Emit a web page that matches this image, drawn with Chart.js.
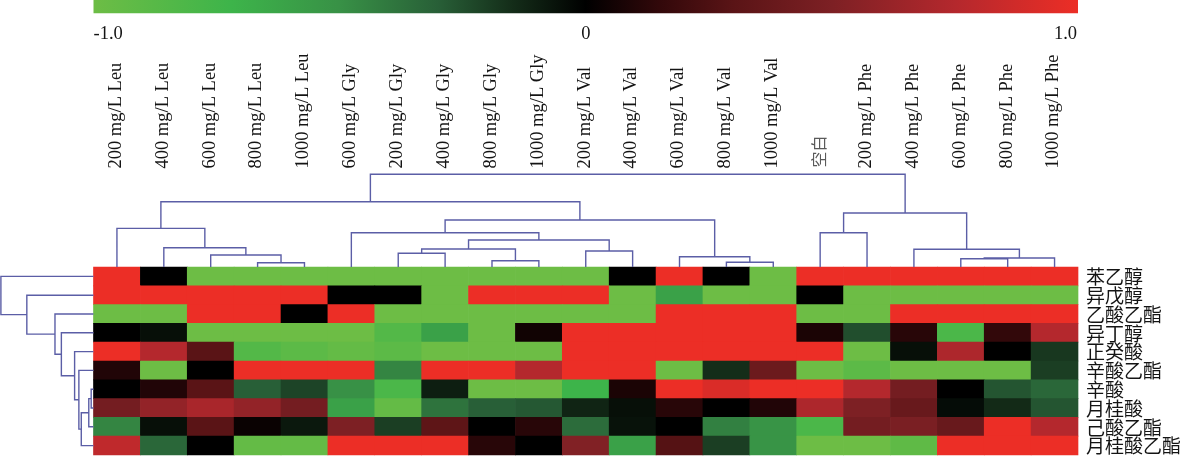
<!DOCTYPE html>
<html><head><meta charset="utf-8">
<script src="https://cdn.jsdelivr.net/npm/chart.js@4.4.1/dist/chart.umd.min.js"></script>
<style>html,body{margin:0;padding:0;background:#fff;overflow:hidden}#wrap{width:1181px;height:458px;position:relative}</style>
</head><body><div id="wrap"><canvas id="c"></canvas></div>
<script>
// ---------- data ----------
const colLabels = ['200 mg/L Leu','400 mg/L Leu','600 mg/L Leu','800 mg/L Leu','1000 mg/L Leu',
  '600 mg/L Gly','200 mg/L Gly','400 mg/L Gly','800 mg/L Gly','1000 mg/L Gly',
  '200 mg/L Val','400 mg/L Val','600 mg/L Val','800 mg/L Val','1000 mg/L Val',
  '空白','200 mg/L Phe','400 mg/L Phe','600 mg/L Phe','800 mg/L Phe','1000 mg/L Phe'];
const rowLabels = ['苯乙醇','异戊醇','乙酸乙酯','异丁醇','正癸酸','辛酸乙酯','辛酸','月桂酸','己酸乙酯','月桂酸乙酯'];

const phenylethanol  = [1,0,-1,-1,-1,-1,-1,-1,-1,-1,-1,0,1,0,-1,1,1,1,1,1,1];
const isoamylAlcohol = [1,1,1,1,1,0,0,-1,1,1,1,-1,-0.6,-1,-1,0,-1,-1,-1,-1,-1];
const ethylAcetate   = [-1,-1,1,1,0,1,-1,-1,-1,-1,-1,-1,1,1,1,-1,-1,1,1,1,1];
const isobutanol     = [0,-0.05,-1,-1,-1,-1,-0.85,-0.6,-1,0.05,1,1,1,1,1,0.08,-0.25,0.12,-0.8,0.15,0.75];
const decanoicAcid   = [1,0.75,0.3,-0.85,-0.9,-0.95,-0.9,-1,-1,-1,1,1,1,1,1,1,-1,-0.05,0.72,0,-0.18];
const ethylOctanoate = [0.1,-1,0,1,1,1,-0.45,1,1,0.75,1,1,-1,-0.15,0.4,-1,-0.9,-1,-1,-1,-0.2];
const octanoicAcid   = [0,0.1,0.3,-0.3,-0.22,-0.5,-0.8,-0.1,-1,-1,-0.72,0.08,1,0.92,1,1,0.75,0.45,0,-0.27,-0.33];
const lauricAcid     = [0.45,0.6,0.7,0.6,0.45,-0.6,-0.95,-0.38,-0.3,-0.28,-0.12,-0.05,0.12,0,0.1,0.72,0.5,0.38,-0.04,-0.14,-0.27];
const ethylHexanoate = [-0.45,-0.05,0.3,0.03,-0.08,0.5,-0.2,0.32,0,0.12,-0.35,-0.06,0,-0.43,-0.52,-0.8,0.45,0.48,0.38,1,0.75];
const ethylLaurate   = [0.8,-0.33,0,-0.95,-0.95,1,1,1,0.12,0,0.52,-0.6,0.28,-0.2,-0.52,-1,-1,-0.92,1,1,1];
const rowValues = [phenylethanol,isoamylAlcohol,ethylAcetate,isobutanol,decanoicAcid,ethylOctanoate,octanoicAcid,lauricAcid,ethylHexanoate,ethylLaurate];

// column dendrogram (linkage: leaf ids 0..20, merged node ids 21..)
const colLinkA = [3,13,8,18,24,12,2,6,10,17,28,1,31,5,15,0,34,35,36,39];
const colLinkB = [4,14,9,19,20,22,21,7,11,25,23,27,29,33,16,32,26,30,37,38];
const colLinkH = [0.046,0.051,0.068,0.089,0.097,0.111,0.129,0.148,0.172,0.191,0.194,0.208,0.291,0.370,0.370,0.417,0.507,0.582,0.704,1.0];
// row dendrogram (leaf ids 0..9, merged ids 10..)
const rowLinkA = [6,10,11,5,4,3,2,1,0];
const rowLinkB = [7,8,9,12,13,14,15,16,17];
const rowLinkH = [0.025,0.051,0.132,0.158,0.204,0.347,0.416,0.720,1.0];

const scaleTicks = [-1,0,1];
const scaleTickLabels = ['-1.0','0','1.0'];

// ---------- styles / layout ----------
const stopVals = [-1,-0.72,-0.5,-0.3,-0.15,0,0.15,0.3,0.5,0.75,1];
const stopRGB = [[109,189,69],[61,180,74],[56,145,70],[40,95,55],[20,45,25],[0,0,0],[50,8,10],[90,20,22],[125,32,36],[180,40,45],[236,46,38]];
function colorFor(v){
  v = Math.max(-1, Math.min(1, v));
  for (let i=0;i<stopVals.length-1;i++){
    if (v <= stopVals[i+1]){
      const t = (v - stopVals[i])/(stopVals[i+1]-stopVals[i]);
      const a = stopRGB[i], b = stopRGB[i+1];
      return 'rgb(' + a.map((c,k)=>Math.round(c + (b[k]-c)*t)).join(',') + ')';
    }
  }
  return 'rgb(' + stopRGB[stopRGB.length-1].join(',') + ')';
}

const HEAT_LEFT = 93.5, HEAT_RIGHT = 1078, HEAT_TOP = 267, HEAT_BOTTOM = 455;
const nCols = colLabels.length, nRows = rowLabels.length;
const colPx = (HEAT_RIGHT - HEAT_LEFT) / nCols;
const rowPx = (HEAT_BOTTOM - HEAT_TOP) / nRows;
const TOP_DEND_PX = 92.7, LEFT_DEND_PX = 92.6;
const CB_TOP = 0, CB_BOTTOM = 13.3;
const cbY = -0.5 - (HEAT_TOP - (CB_TOP + CB_BOTTOM) / 2) / rowPx;
const cbPct = (CB_BOTTOM - CB_TOP) / rowPx;
const LINE_COLOR = '#5b5ea6';
const SERIF = '"Liberation Serif","Times New Roman",serif';
const CJK = '"Noto Sans CJK SC","Noto Sans CJK JP",sans-serif';
const TEXT_COLOR = '#141414';
const COL_LABEL_GAP = 98.5;   // px between heatmap top and start of column labels
const ROW_LABEL_GAP = 8;      // px between heatmap right edge and row labels
const CB_LABEL_BASE = 38.5;   // baseline of colour-scale labels (px from top)

// ---------- build datasets ----------
const heatData = [], heatColors = [];
rowValues.forEach((vals, r) => vals.forEach((v, c) => {
  heatData.push({x: [c - 0.5, c + 0.5], y: r});
  heatColors.push(colorFor(v));
}));

function dendro(n, A, B, Hh, toPoint){
  const pos = [], hgt = [];
  for (let i=0;i<n;i++){ pos.push(i); hgt.push(0); }
  const pts = [];
  for (let k=0;k<A.length;k++){
    const a = A[k], b = B[k], h = Hh[k];
    pts.push(toPoint(pos[a], hgt[a]), toPoint(pos[a], h), toPoint(pos[b], h), toPoint(pos[b], hgt[b]), {x:null, y:null});
    pos.push((pos[a] + pos[b]) / 2); hgt.push(h);
  }
  return pts;
}
const topDend = dendro(nCols, colLinkA, colLinkB, colLinkH, (p, h) => ({x: p, y: -0.5 - h * TOP_DEND_PX / rowPx}));
const leftDend = dendro(nRows, rowLinkA, rowLinkB, rowLinkH, (p, h) => ({x: -0.5 - h * LEFT_DEND_PX / colPx, y: p}));

const lineDs = (data) => ({type:'line', data, borderColor: LINE_COLOR, borderWidth: 1.4, pointRadius: 0,
  pointHitRadius: 0, spanGaps: false, tension: 0, fill: false, clip: false, borderJoinStyle: 'miter',
  xAxisID: 'x', yAxisID: 'y'});

// text labels placed through the chart's scales
const labelPlugin = {
  id: 'heatLabels',
  afterDatasetsDraw(chart) {
    const {ctx} = chart; const sx = chart.scales.x, sy = chart.scales.y;
    const top = sy.getPixelForValue(-0.5);
    ctx.save();
    ctx.fillStyle = TEXT_COLOR;
    colLabels.forEach((lab, i) => {
      ctx.save();
      ctx.translate(sx.getPixelForValue(i) - 1, top - COL_LABEL_GAP);
      ctx.rotate(-Math.PI / 2);
      ctx.textAlign = 'left'; ctx.textBaseline = 'middle';
      const cjk = /[\u4e00-\u9fff]/.test(lab);
      ctx.font = cjk ? '16px ' + CJK : '18.5px ' + SERIF;
      ctx.fillStyle = cjk ? '#5a5a5a' : TEXT_COLOR;
      ctx.fillText(lab, cjk ? 1 : 0, 0);
      ctx.restore();
    });
    const right = sx.getPixelForValue(nCols - 0.5);
    ctx.font = '19px ' + CJK; ctx.textAlign = 'left'; ctx.textBaseline = 'middle';
    rowLabels.forEach((lab, r) => ctx.fillText(lab, right + ROW_LABEL_GAP, sy.getPixelForValue(r) + 0.5));
    ctx.font = '18.5px ' + SERIF; ctx.textBaseline = 'alphabetic';
    const left = sx.getPixelForValue(-0.5), mid = sx.getPixelForValue((nCols - 1) / 2);
    scaleTicks.forEach((t, i) => {
      ctx.textAlign = t < 0 ? 'left' : (t > 0 ? 'right' : 'center');
      const px = t < 0 ? left : (t > 0 ? right - 1 : mid);
      ctx.fillText(scaleTickLabels[i], px, CB_LABEL_BASE);
    });
    ctx.restore();
  }
};

const chart = new Chart(document.getElementById('c'), {
  type: 'bar',
  data: {
    datasets: [
      lineDs(topDend),
      lineDs(leftDend),
      {type:'bar', indexAxis:'y', data: heatData, backgroundColor: heatColors, borderWidth: 0,
        barPercentage: 1, categoryPercentage: 1, grouped: false, xAxisID: 'x', yAxisID: 'y'},
      {type:'bar', indexAxis:'y', data: [{x: [-0.5, nCols - 0.5], y: cbY}], borderWidth: 0,
        barPercentage: cbPct, categoryPercentage: 1, grouped: false, clip: false, xAxisID: 'x', yAxisID: 'y',
        backgroundColor: (ctx) => {
          const sx = ctx.chart.scales.x;
          if (!sx) return '#000';
          const x0 = sx.getPixelForValue(-0.5), x1 = sx.getPixelForValue(nCols - 0.5);
          if (!isFinite(x0) || !isFinite(x1) || x1 <= x0) return '#000';
          const g = ctx.chart.ctx.createLinearGradient(x0, 0, x1, 0);
          stopVals.forEach((v) => g.addColorStop((v + 1) / 2, colorFor(v)));
          return g;
        }}
    ]
  },
  options: {
    responsive: true, maintainAspectRatio: false, animation: false, events: [],
    layout: {padding: 0, autoPadding: false},
    plugins: {legend: {display: false}, tooltip: {enabled: false}, title: {display: false}},
    scales: {
      x: {type: 'linear', display: false, offset: false, bounds: 'data', grace: 0,
        min: -0.5 - HEAT_LEFT / colPx, max: nCols - 0.5 + (1181 - HEAT_RIGHT) / colPx},
      y: {type: 'linear', display: false, reverse: true, offset: false, bounds: 'data', grace: 0,
        min: -0.5 - HEAT_TOP / rowPx, max: nRows - 0.5 + (458 - HEAT_BOTTOM) / rowPx,
        afterBuildTicks: (s) => { s.ticks = rowLabels.map((_, i) => ({value: i})); }}
    }
  },
  plugins: [labelPlugin]
});

// align the scales with the real chart area
(function fit(){
  const a = chart.chartArea;
  const sx = chart.options.scales.x, sy = chart.options.scales.y;
  sx.min = -0.5 - (HEAT_LEFT - a.left) / colPx; sx.max = nCols - 0.5 + (a.right - HEAT_RIGHT) / colPx;
  sy.min = -0.5 - (HEAT_TOP - a.top) / rowPx;   sy.max = nRows - 0.5 + (a.bottom - HEAT_BOTTOM) / rowPx;
  chart.update('none');
})();
</script>
</body></html>
